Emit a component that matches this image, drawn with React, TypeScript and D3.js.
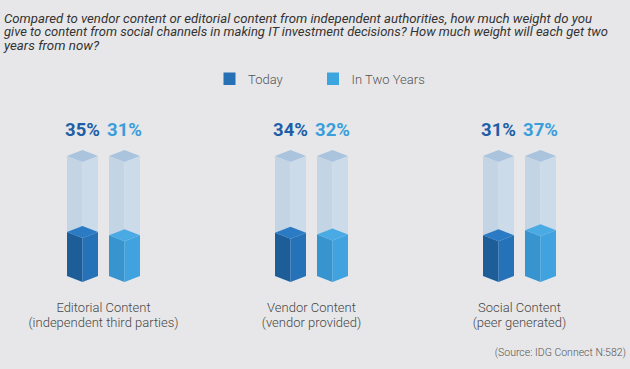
import * as d3 from "d3";

const width = 630;
const height = 369;

const titleLines = [
  "Compared to vendor content or editorial content from independent authorities, how much weight do you",
  "give to content from social channels in making IT investment decisions? How much weight will each get two",
  "years from now?",
];
const titleWidths = [588, 604, 95];

const categories = ["Editorial Content", "Vendor Content", "Social Content"];
const subLabels = ["(independent third parties)", "(vendor provided)", "(peer generated)"];
const seriesNames = ["Today", "In Two Years"];
const today = [35, 34, 31];
const twoYears = [31, 32, 37];
const source = "(Source: IDG Connect N:582)";

// face colours: top, left, right
const palette = [
  { top: "#2b7bc4", left: "#1d5e98", right: "#2572b9", label: "#1f5ea6", key: "#2670b5" },
  { top: "#4aabe4", left: "#3894ce", right: "#40a2de", label: "#3a9edb", key: "#3ba5e0" },
];
const ghost = { top: "#a9c4dc", left: "#c3d4e4", right: "#ccdbea" };

const depth = 6; // half height of the rhombus top
const bottomY = 282;
const ghostTop = 150;

export default function App() {
  const x = d3.scaleBand<string>().domain(categories).range([-0.5, 623.5]);
  const inner = d3
    .scaleBand<string>()
    .domain(seriesNames)
    .range([-36.5, 36.5])
    .paddingInner(11 / 42);
  // apex of the filled box
  const y = d3.scaleLinear().domain([0, 100]).range([255, 172]);

  const rows = categories.flatMap((c, i) =>
    [today[i], twoYears[i]].map((v, s) => ({ cat: c, s, v }))
  );

  const box = (x0: number, w: number, top: number) => {
    const cx = x0 + w / 2;
    const x1 = x0 + w;
    const p = (pts: number[][]) => d3.line()(pts as [number, number][]) + "Z";
    return {
      top: p([[cx, top], [x1, top + depth], [cx, top + 2 * depth], [x0, top + depth]]),
      left: p([[x0, top + depth], [cx, top + 2 * depth], [cx, bottomY], [x0, bottomY - depth]]),
      right: p([[cx, top + 2 * depth], [x1, top + depth], [x1, bottomY - depth], [cx, bottomY]]),
    };
  };

  return (
    <svg
      width={width}
      height={height}
      style={{ position: "absolute", left: 0, top: 0, background: "#e7e7e9" }}
      fontFamily="Roboto, sans-serif"
    >
      <rect width={width} height={height} fill="#e7e7e9" />

      {titleLines.map((t, i) => (
        <text
          key={i}
          x={4}
          y={22.7 + i * 13.6}
          fontSize={13}
          fontStyle="italic"
          fontWeight={400}
          fill="#333"
          textLength={titleWidths[i]}
          lengthAdjust="spacingAndGlyphs"
        >
          {t}
        </text>
      ))}

      {/* legend */}
      {seriesNames.map((n, i) => {
        const lx = [223.5, 327][i];
        return (
          <g key={n}>
            <rect x={lx} y={72.5} width={12} height={12.5} fill={palette[i].key} />
            <text x={lx + 24.5} y={83.5} fontSize={13} fontWeight={300} fill="#555">
              {n}
            </text>
          </g>
        );
      })}

      {rows.map((r, i) => {
        const x0 = x(r.cat)! + x.bandwidth() / 2 + inner(seriesNames[r.s])!;
        const w = inner.bandwidth();
        const g = box(x0, w, ghostTop);
        const f = box(x0, w, y(r.v));
        const col = palette[r.s];
        return (
          <g key={i}>
            <path d={g.left} fill={ghost.left} />
            <path d={g.right} fill={ghost.right} />
            <path d={g.top} fill={ghost.top} />
            <path d={f.left} fill={col.left} />
            <path d={f.right} fill={col.right} />
            <path d={f.top} fill={col.top} />
            <text
              x={x0 + w / 2}
              y={135.5}
              textAnchor="middle"
              fontSize={18.5}
              fontWeight={700}
              fill={col.label}
            >
              {r.v}%
            </text>
          </g>
        );
      })}

      {categories.map((c, i) => {
        const cx = x(c)! + x.bandwidth() / 2;
        return (
          <g key={c} fill="#474747" fontSize={13} fontWeight={300} textAnchor="middle">
            <text x={cx} y={311.7}>
              {c}
            </text>
            <text x={cx} y={326.5}>
              {subLabels[i]}
            </text>
          </g>
        );
      })}

      <text x={626} y={356} textAnchor="end" fontSize={10.5} fontWeight={300} fill="#555">
        {source}
      </text>
    </svg>
  );
}
